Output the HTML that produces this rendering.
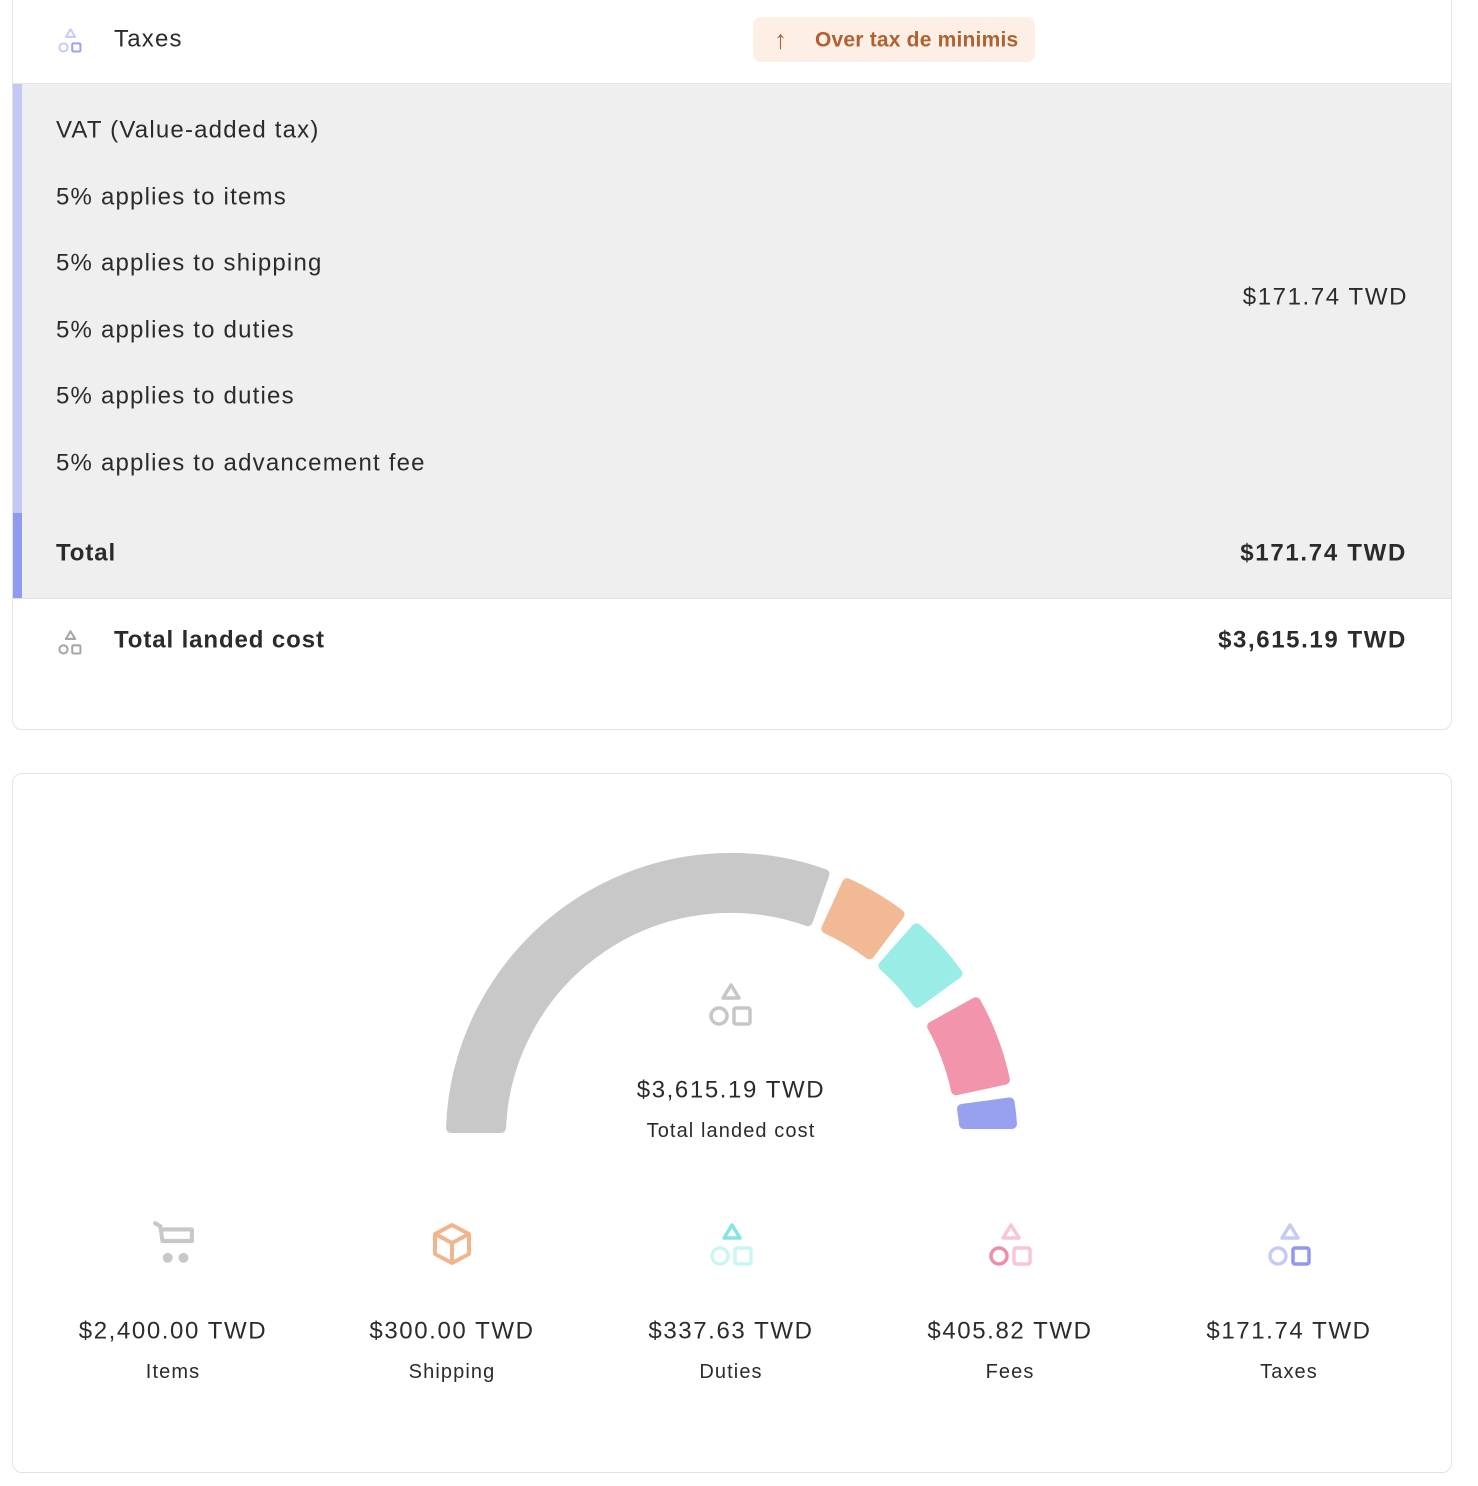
<!DOCTYPE html>
<html><head><meta charset="utf-8"><style>
body{margin:0;width:1478px;height:1486px;background:#fff;font-family:"Liberation Sans",sans-serif;color:#2b2b2b;position:relative;overflow:hidden}
.a{position:absolute}
.t{position:absolute;transform:translateY(-50%);line-height:1.2;white-space:nowrap;letter-spacing:1.2px}
.b{font-weight:bold;letter-spacing:0.9px}
.r{text-align:right}
.c{transform:translate(-50%,-50%);text-align:center}
</style></head><body>
<div class="a" style="left:12px;top:-10px;width:1438px;height:738px;border:1px solid #e3e3e3;border-radius:10px;"></div>
<div class="a" style="left:13px;top:83px;width:1438px;height:1px;background:#e6e6e6"></div>
<div class="a" style="left:13px;top:84px;width:1438px;height:514px;background:#efefef"></div>
<div class="a" style="left:13px;top:598px;width:1438px;height:1px;background:#e2e2e2"></div>
<div class="a" style="left:13px;top:84px;width:9px;height:429px;background:#c3c8f4"></div>
<div class="a" style="left:13px;top:513px;width:9px;height:85px;background:#8e9bf0"></div>

<svg class="a" style="left:56px;top:27px" width="29" height="28" viewBox="0 0 48 48"><path d="M24 4 L32 17 L16 17 Z" fill="none" stroke="#c8ccf5" stroke-width="3.5" stroke-linejoin="round"/><circle cx="12" cy="35" r="7" fill="none" stroke="#c8ccf5" stroke-width="3.5"/><rect x="27" y="28" width="14" height="14" rx="2" fill="none" stroke="#9aa3ee" stroke-width="3.5"/></svg>
<div class="t" style="left:114px;top:40px;font-size:24px">Taxes</div>

<div class="a" style="left:753px;top:17px;width:282px;height:45px;background:#fdefe6;border-radius:8px"></div>
<div class="t" style="left:774px;top:40px;font-size:26px;color:#b0612f;font-weight:bold">↑</div>
<div class="t" style="left:815px;top:40px;font-size:21px;color:#b0612f;font-weight:bold;letter-spacing:0.2px">Over tax de minimis</div>

<div class="t" style="left:56px;top:131px;font-size:24px">VAT (Value-added tax)</div>
<div class="t" style="left:56px;top:198px;font-size:24px">5% applies to items</div>
<div class="t" style="left:56px;top:264px;font-size:24px">5% applies to shipping</div>
<div class="t" style="left:56px;top:331px;font-size:24px">5% applies to duties</div>
<div class="t" style="left:56px;top:397px;font-size:24px">5% applies to duties</div>
<div class="t" style="left:56px;top:464px;font-size:24px">5% applies to advancement fee</div>
<div class="t r" style="right:70px;top:298px;font-size:24px;letter-spacing:1.6px">$171.74 TWD</div>
<div class="t b" style="left:56px;top:554px;font-size:24px">Total</div>
<div class="t r b" style="right:71px;top:554px;font-size:24px;letter-spacing:1.7px">$171.74 TWD</div>

<svg class="a" style="left:56px;top:629px" width="29" height="28" viewBox="0 0 48 48"><path d="M24 4 L32 17 L16 17 Z" fill="none" stroke="#a6a6a6" stroke-width="3.5" stroke-linejoin="round"/><circle cx="12" cy="35" r="7" fill="none" stroke="#a6a6a6" stroke-width="3.5"/><rect x="27" y="28" width="14" height="14" rx="2" fill="none" stroke="#a6a6a6" stroke-width="3.5"/></svg>
<div class="t b" style="left:114px;top:641px;font-size:24px">Total landed cost</div>
<div class="t r b" style="right:71px;top:641px;font-size:24px;letter-spacing:1.6px">$3,615.19 TWD</div>

<div class="a" style="left:12px;top:773px;width:1438px;height:698px;border:1px solid #e3e3e3;border-radius:10px;"></div>

<svg class="a" style="left:0;top:0" width="1478" height="1486">
<g stroke-width="10" stroke-linejoin="round">
<path d="M451 1128 A280 280 0 0 1 824.47 874.06 L807.78 921.19 A230 230 0 0 0 501 1128 Z" fill="#c8c8c9" stroke="#c8c8c9"/>
<path d="M847.11 883.21 A280 280 0 0 1 899.51 914.38 L869.42 954.31 A230 230 0 0 0 826.38 928.71 Z" fill="#f1b994" stroke="#f1b994"/>
<path d="M916.53 928.29 A280 280 0 0 1 957.53 973.42 L917.07 1002.81 A230 230 0 0 0 883.40 965.74 Z" fill="#9aede7" stroke="#9aede7"/>
<path d="M975.89 1002.25 A280 280 0 0 1 1004.88 1079.78 L955.97 1090.18 A230 230 0 0 0 932.16 1026.49 Z" fill="#f294ab" stroke="#f294ab"/>
<path d="M1009.60 1102.45 A280 280 0 0 1 1011.96 1124 L963.97 1124 A230 230 0 0 0 962.03 1108.98 Z" fill="#97a1ef" stroke="#97a1ef"/>
</g>
<g fill="none" stroke-width="3.5" stroke-linejoin="round">
<g transform="translate(707,981)" stroke="#c6c6c6"><path d="M24 4 L32 17 L16 17 Z"/><circle cx="12" cy="35" r="8"/><rect x="27" y="27" width="16" height="16" rx="2"/></g>
<g transform="translate(152,1220) scale(1.05)" stroke="#c8c8c8" stroke-linecap="round"><path d="M3 3 L8 6 L10 20 L38 20 L38 9 L9 9" stroke-width="4"/><circle cx="15" cy="36" r="3" fill="#c8c8c8"/><circle cx="30" cy="36" r="3" fill="#c8c8c8"/></g>
<g transform="translate(430,1222)" stroke="#f1b48c" stroke-width="4"><path d="M22 3 L39 12 L39 32 L22 41 L5 32 L5 12 Z M5 12 L22 21 L39 12 M22 21 L22 41"/></g>
<g transform="translate(708,1221)"><path d="M24 4 L32 17 L16 17 Z" stroke="#86e6df"/><circle cx="12" cy="35" r="8" stroke="#cbf6f2"/><rect x="27" y="27" width="16" height="16" rx="2" stroke="#cbf6f2"/></g>
<g transform="translate(987,1221)"><path d="M24 4 L32 17 L16 17 Z" stroke="#f8c6d3"/><circle cx="12" cy="35" r="8" stroke="#ec8fa7"/><rect x="27" y="27" width="16" height="16" rx="2" stroke="#f8c6d3"/></g>
<g transform="translate(1266,1221)"><path d="M24 4 L32 17 L16 17 Z" stroke="#c6cbf5"/><circle cx="12" cy="35" r="8" stroke="#c6cbf5"/><rect x="27" y="27" width="16" height="16" rx="2" stroke="#8f9aee"/></g>
</g>
</svg>

<div class="t c" style="left:731px;top:1091px;font-size:24px;letter-spacing:1.6px">$3,615.19 TWD</div>
<div class="t c" style="left:731px;top:1131px;font-size:20px;letter-spacing:1.1px">Total landed cost</div>

<div class="t c" style="left:173px;top:1332px;font-size:24px;letter-spacing:1.6px">$2,400.00 TWD</div>
<div class="t c" style="left:173px;top:1372px;font-size:20px;letter-spacing:1.1px">Items</div>
<div class="t c" style="left:452px;top:1332px;font-size:24px;letter-spacing:1.6px">$300.00 TWD</div>
<div class="t c" style="left:452px;top:1372px;font-size:20px;letter-spacing:1.1px">Shipping</div>
<div class="t c" style="left:731px;top:1332px;font-size:24px;letter-spacing:1.6px">$337.63 TWD</div>
<div class="t c" style="left:731px;top:1372px;font-size:20px;letter-spacing:1.1px">Duties</div>
<div class="t c" style="left:1010px;top:1332px;font-size:24px;letter-spacing:1.6px">$405.82 TWD</div>
<div class="t c" style="left:1010px;top:1372px;font-size:20px;letter-spacing:1.1px">Fees</div>
<div class="t c" style="left:1289px;top:1332px;font-size:24px;letter-spacing:1.6px">$171.74 TWD</div>
<div class="t c" style="left:1289px;top:1372px;font-size:20px;letter-spacing:1.1px">Taxes</div>
</body></html>
